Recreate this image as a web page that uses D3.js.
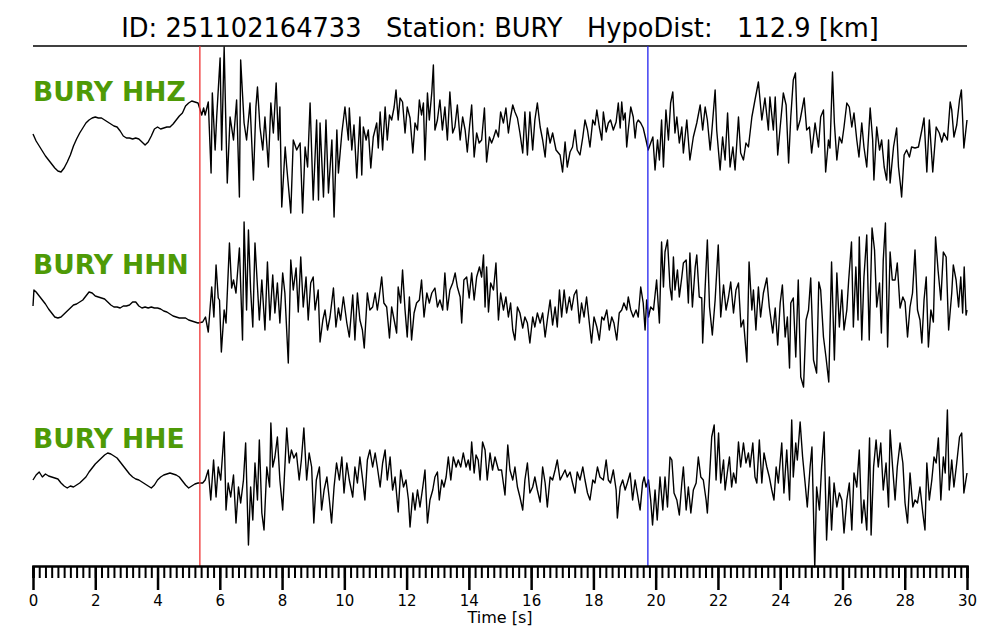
<!DOCTYPE html>
<html>
<head>
<meta charset="utf-8">
<script src="https://cdn.jsdelivr.net/npm/d3@7"></script>
<style>
    body { margin: 0; background: #fff; }
    text { font-family: "DejaVu Sans", sans-serif; }
</style>
</head>
<body>
<div id="chart"></div>
<script>
// Data
const event_id = '251102164733';
const station = 'BURY';
const hypo_dist = 112.9;
const channels = ['HHZ', 'HHN', 'HHE'];
const p_pick = 5.36;
const s_pick = 19.75;
const major_ticks = [0, 2, 4, 6, 8, 10, 12, 14, 16, 18, 20, 22, 24, 26, 28, 30];

// [time s, amplitude]
const hhz = [
    [0,-4],[0.1,-11],[0.2,-16],[0.3,-21],[0.4,-26],[0.5,-30],[0.6,-34],[0.7,-38],[0.8,-41],[0.9,-42],
    [1.0,-38],[1.1,-32],[1.2,-25],[1.3,-16],[1.4,-9],[1.5,-3],[1.6,2],[1.7,7],[1.8,10],[1.9,12],
    [2.0,13],[2.1,12],[2.2,12],[2.3,10],[2.4,8],[2.5,6],[2.6,4],[2.7,3],[2.8,-1],[2.9,-6],
    [3.0,-8],[3.1,-8],[3.2,-9],[3.3,-8],[3.4,-9],[3.5,-12],[3.6,-15],[3.7,-12],[3.8,-6],[3.9,1],
    [4.0,3],[4.1,1],[4.2,2],[4.3,3],[4.4,3],[4.5,6],[4.6,10],[4.7,14],[4.8,17],[4.9,24],
    [5.0,27],[5.1,29],[5.2,28],[5.3,27],
    [5.42,15],[5.48,22],[5.53,15],[5.63,28],[5.72,-43],[5.76,37],[5.85,-20],[5.90,13],[6.01,72],[6.06,-20],
    [6.14,83],[6.19,13],[6.24,-53],[6.33,13],[6.44,-10],[6.54,30],[6.63,-67],[6.67,70],[6.78,7],[6.86,-10],
    [6.97,27],[7.08,-50],[7.16,23],[7.21,43],[7.29,3],[7.38,-20],[7.45,13],[7.56,-37],[7.64,27],[7.72,-3],
    [7.81,47],[7.88,-10],[7.93,23],[7.99,-77],[8.10,-17],[8.15,-37],[8.28,-83],[8.36,-10],[8.47,-20],[8.58,-13],
    [8.66,-83],[8.74,-17],[8.82,-37],[8.90,27],[9.00,-70],[9.11,10],[9.17,-70],[9.22,7],[9.33,-67],[9.41,10],
    [9.49,-63],[9.60,-10],[9.67,-87],[9.76,0],[9.81,-43],[9.92,-3],[10.02,23],[10.13,-10],
    [10.16,22],[10.24,-20],[10.31,5],[10.40,-48],[10.50,13],[10.56,-45],[10.61,3],[10.70,-10],[10.77,0],[10.85,-38],
    [10.93,-7],[11.04,7],[11.09,-18],[11.15,18],[11.23,-20],[11.31,23],[11.38,-10],[11.45,15],[11.52,10],[11.60,23],
    [11.66,40],[11.73,10],[11.79,32],[11.87,28],[11.95,-3],[12.02,23],[12.11,12],[12.20,-23],[12.27,7],[12.35,0],
    [12.41,30],[12.48,15],[12.54,27],[12.59,-30],[12.67,37],[12.73,10],[12.81,38],[12.86,65],[12.91,0],[12.99,10],
    [13.07,30],[13.15,0],[13.23,23],[13.31,-10],[13.39,38],[13.48,-3],[13.55,3],[13.63,25],[13.72,-10],[13.80,13],
    [13.88,0],[13.95,-22],[14.02,3],[14.09,25],[14.17,-27],[14.25,-3],[14.33,-13],[14.41,-10],[14.50,22],[14.57,-32],
    [14.66,-7],[14.73,-13],[14.79,-8],[14.87,0],[14.95,-7],[15.02,18],[15.11,7],[15.19,22],[15.27,-3],[15.34,13],
    [15.41,25],[15.48,18],[15.56,12],[15.64,-3],[15.73,-23],[15.80,18],[15.88,-25],[15.96,18],[16.05,-20],[16.12,10],
    [16.20,27],[16.29,3],[16.37,-10],[16.45,-27],[16.52,2],[16.61,-13],[16.69,-3],[16.80,-20],[16.93,-25],[17.01,-42],
    [17.09,-12],[17.16,-37],[17.25,-22],[17.33,-17],[17.41,0],[17.48,-20],[17.57,-25],[17.66,-7],[17.73,10],[17.81,0],
    [17.89,-17],[17.98,10],[18.05,5],[18.11,20],[18.19,3],[18.27,-10],[18.32,18],[18.41,-2],[18.48,7],[18.55,10],
    [18.64,0],[18.73,8],[18.80,27],[18.86,2],[18.91,28],[18.96,10],[19.02,17],[19.07,-17],[19.12,0],[19.20,23],
    [19.28,13],[19.34,-8],[19.39,7],[19.44,10],[19.52,7],[19.60,2],[19.69,-10],[19.76,-20],
    [19.84,-13],[19.91,-7],[19.98,-40],[20.06,-10],[20.12,-30],[20.19,10],[20.25,-37],[20.33,20],[20.41,-10],[20.48,27],
    [20.55,38],[20.62,-3],[20.68,13],[20.76,-13],[20.84,3],[20.89,-23],[21.00,10],[21.10,-30],[21.21,-7],[21.32,7],
    [21.43,25],[21.51,0],[21.59,23],[21.66,10],[21.75,-20],[21.80,-3],[21.91,40],[21.96,0],[22.07,-40],[22.15,-7],
    [22.23,-30],[22.31,17],[22.39,-37],[22.48,-17],[22.55,-40],[22.66,13],[22.73,-23],[22.82,-30],[22.90,-13],[22.98,-17],
    [23.09,13],[23.19,30],[23.30,48],[23.41,10],[23.51,32],[23.62,0],[23.67,33],[23.78,0],[23.84,33],[23.92,-25],
    [24.00,3],[24.10,37],[24.19,25],[24.27,-33],[24.34,13],[24.42,50],[24.49,57],[24.55,0],[24.64,10],[24.77,32],
    [24.85,0],[24.94,3],[25.01,-23],[25.12,7],[25.23,-17],[25.30,13],[25.39,20],[25.46,-42],[25.55,-10],[25.60,-18],
    [25.68,58],[25.74,7],[25.82,-30],[25.90,-7],[25.98,-13],[26.05,3],[26.14,27],[26.22,23],[26.30,3],[26.37,17],
    [26.46,-10],[26.53,-27],[26.62,7],[26.69,-17],[26.78,-37],[26.89,22],[26.97,-10],[27.01,-50],[27.10,3],[27.19,-20],
    [27.26,-10],[27.34,-37],[27.42,-50],[27.48,-10],[27.53,-53],[27.64,-17],[27.74,2],[27.80,-37],[27.87,-57],[27.90,-67],
    [27.98,-25],[28.06,-20],[28.15,-27],[28.22,-17],[28.33,-18],[28.44,-17],[28.55,0],[28.62,12],[28.71,-42],[28.79,10],
    [28.90,-42],[29.01,3],[29.11,-3],[29.19,-12],[29.26,-3],[29.37,-10],[29.46,28],[29.51,20],[29.58,-7],[29.67,5],
    [29.76,30],[29.82,40],[29.90,-18],[30.00,10]
];

const hhn = [
    [0,-6],[0.03,10],[0.1,8],[0.2,4],[0.3,0],[0.4,-4],[0.5,-9],[0.6,-13],[0.7,-17],[0.8,-18],[0.9,-17],
    [1.0,-14],[1.1,-11],[1.2,-8],[1.3,-5],[1.4,-4],[1.5,-2],[1.6,0],[1.7,4],[1.8,8],[1.9,7],
    [2.0,4],[2.1,3],[2.2,2],[2.3,1],[2.4,-2],[2.5,-5],[2.6,-7],[2.7,-7],[2.8,-8],[2.9,-6],
    [3.0,-6],[3.1,-5],[3.2,-2],[3.3,-2],[3.4,-6],[3.5,-8],[3.6,-7],[3.7,-8],[3.8,-7],[3.9,-8],
    [4.0,-8],[4.1,-9],[4.2,-11],[4.3,-12],[4.4,-14],[4.5,-16],[4.6,-17],[4.7,-18],[4.8,-18],[4.9,-18],
    [5.0,-20],[5.1,-21],[5.2,-22],[5.3,-23],
    [5.45,-22],[5.54,-17],[5.63,-32],[5.74,13],[5.81,-17],[5.88,35],[5.95,2],[5.99,0],[6.05,-52],[6.14,-10],
    [6.20,-23],[6.31,57],[6.38,12],[6.44,20],[6.52,7],[6.63,52],[6.73,-40],[6.78,78],[6.86,-10],[6.92,70],
    [6.99,10],[7.06,-27],[7.13,57],[7.21,13],[7.27,-20],[7.35,20],[7.45,-30],[7.53,38],[7.61,-20],[7.70,25],
    [7.77,-13],[7.85,17],[7.93,-23],[8.02,27],[8.09,7],[8.20,-63],[8.28,40],[8.36,10],[8.45,32],[8.52,-12],
    [8.60,43],[8.68,-7],[8.77,23],[8.84,-20],[8.92,17],[9.00,23],[9.06,-10],[9.16,10],[9.22,-42],[9.31,-20],
    [9.38,-10],[9.46,-30],[9.54,-17],[9.65,12],[9.73,-27],[9.81,-8],[9.88,-20],[9.97,3],[10.08,-23],[10.16,-37],
    [10.27,5],[10.34,-40],[10.42,7],[10.50,-20],[10.58,-30],[10.64,-48],[10.74,7],[10.82,-10],[10.91,-7],[10.99,7],
    [11.06,-10],[11.12,3],[11.20,23],[11.27,-3],[11.36,-7],[11.45,-38],[11.52,-7],[11.60,-20],[11.68,-33],[11.73,13],
    [11.81,-3],[11.87,30],[11.95,-10],[12.02,-37],[12.09,3],[12.16,-40],[12.24,-13],[12.32,-3],[12.41,0],[12.48,20],
    [12.56,-17],[12.65,7],[12.73,-3],[12.81,7],[12.91,12],[12.99,-7],[13.07,0],[13.16,-10],[13.23,27],[13.31,-10],
    [13.39,10],[13.48,17],[13.56,27],[13.63,13],[13.72,3],[13.77,-23],[13.84,20],[13.93,23],[14.01,2],[14.09,27],
    [14.17,0],[14.25,23],[14.34,33],[14.41,23],[14.47,45],[14.52,-7],[14.57,33],[14.63,-12],[14.70,17],[14.79,10],
    [14.87,37],[14.95,-20],[15.02,7],[15.11,-10],[15.19,3],[15.27,-17],[15.34,-3],[15.41,-30],[15.48,-40],[15.56,-7],
    [15.64,-13],[15.73,-28],[15.80,-17],[15.88,-23],[15.96,-43],[16.05,-17],[16.12,-27],[16.20,-13],[16.29,-23],[16.37,-13],
    [16.45,-37],[16.52,-20],[16.61,0],[16.69,-25],[16.77,-7],[16.84,-27],[16.91,10],[16.98,-17],[17.06,10],[17.14,-13],
    [17.23,3],[17.30,-10],[17.38,5],[17.46,10],[17.55,-23],[17.62,-3],[17.70,-17],[17.78,3],[17.87,-23],[17.94,-43],
    [18.02,-17],[18.11,-27],[18.19,-40],[18.27,-17],[18.34,-20],[18.43,-10],[18.51,-30],[18.59,-17],[18.66,-23],[18.75,-40],
    [18.83,-13],[18.91,-10],[18.98,-3],[19.07,-10],[19.12,3],[19.20,-10],[19.28,-17],[19.37,-10],[19.44,-17],[19.52,13],
    [19.60,-3],[19.66,-30],[19.71,0],[19.77,-17],[19.84,-7],[19.93,-10],
    [20.03,20],[20.12,-23],[20.19,58],[20.25,13],[20.30,48],[20.38,60],[20.46,13],[20.52,0],[20.57,43],[20.62,10],
    [20.70,30],[20.76,3],[20.84,23],[20.89,37],[20.98,40],[21.05,-3],[21.10,47],[21.18,-7],[21.27,33],[21.32,45],
    [21.40,3],[21.48,2],[21.51,-43],[21.59,13],[21.66,60],[21.73,-7],[21.82,-35],[21.91,0],[22.01,55],[22.09,-17],
    [22.18,15],[22.26,-10],[22.34,3],[22.41,18],[22.50,-13],[22.58,10],[22.66,17],[22.74,-27],[22.82,-20],[22.93,-62],
    [23.00,38],[23.09,-10],[23.14,10],[23.22,-30],[23.30,13],[23.37,-17],[23.46,7],[23.57,22],[23.65,-7],[23.76,-33],
    [23.84,-8],[23.92,-45],[24.00,-3],[24.07,15],[24.16,-37],[24.23,-17],[24.30,-68],[24.34,-3],[24.42,2],[24.50,-57],
    [24.58,20],[24.66,-77],[24.75,-87],[24.83,-20],[24.91,-10],[24.98,22],[25.07,-60],[25.17,-73],[25.24,18],[25.30,10],
    [25.39,-37],[25.47,-57],[25.56,-82],[25.65,38],[25.74,-60],[25.82,27],[25.90,-27],[25.98,10],[26.05,-30],[26.14,-10],
    [26.20,20],[26.29,58],[26.35,-27],[26.43,33],[26.50,-20],[26.54,63],[26.62,-40],[26.69,23],[26.78,65],[26.86,-40],
    [26.95,72],[27.03,50],[27.10,-7],[27.19,17],[27.25,-33],[27.31,40],[27.38,77],[27.45,-47],[27.53,48],[27.60,20],
    [27.69,20],[27.76,37],[27.85,-8],[27.94,3],[28.01,-2],[28.09,-37],[28.17,-7],[28.25,7],[28.33,50],[28.41,-10],
    [28.49,-20],[28.55,-43],[28.62,0],[28.69,23],[28.76,-47],[28.84,-10],[28.92,-22],[28.99,63],[29.07,30],[29.16,0],
    [29.24,48],[29.33,43],[29.41,-30],[29.51,7],[29.56,35],[29.65,20],[29.73,-7],[29.80,23],[29.86,-13],[29.91,33],
    [29.97,-15],[30.00,-10]
];

const hhe = [
    [0,-5],[0.1,0],[0.2,3],[0.3,-2],[0.4,1],[0.5,-1],[0.6,-2],[0.7,-3],[0.8,-4],[0.9,-8],
    [1.0,-11],[1.1,-13],[1.2,-11],[1.3,-12],[1.4,-10],[1.5,-8],[1.6,-5],[1.7,-2],[1.8,3],[1.9,7],
    [2.0,11],[2.1,14],[2.2,17],[2.3,20],[2.4,22],[2.5,21],[2.6,19],[2.7,17],[2.8,13],[2.9,9],
    [3.0,5],[3.1,1],[3.2,-2],[3.3,-4],[3.4,-5],[3.5,-7],[3.6,-9],[3.7,-11],[3.8,-13],[3.9,-10],
    [4.0,-5],[4.1,-2],[4.2,0],[4.3,1],[4.4,2],[4.5,1],[4.6,0],[4.7,-2],[4.8,-6],[4.9,-10],
    [5.0,-13],[5.1,-11],[5.2,-9],[5.3,-8],
    [5.45,-8],[5.53,-5],[5.63,5],[5.71,-25],[5.80,15],[5.88,-22],[5.95,8],[6.03,-5],[6.14,43],[6.20,-35],
    [6.27,-8],[6.35,-22],[6.44,0],[6.52,-48],[6.60,-12],[6.67,-28],[6.76,-5],[6.83,32],[6.92,-70],[6.99,-12],
    [7.06,-45],[7.13,12],[7.21,-25],[7.27,35],[7.35,-38],[7.42,-55],[7.51,8],[7.60,-12],[7.64,52],[7.70,8],
    [7.77,18],[7.85,38],[7.93,-5],[8.02,-35],[8.09,8],[8.15,47],[8.23,12],[8.30,25],[8.38,17],[8.46,22],
    [8.55,-5],[8.62,15],[8.70,47],[8.79,-5],[8.87,22],[8.95,8],[9.02,-48],[9.10,-5],[9.20,8],[9.27,-35],
    [9.35,-15],[9.44,-2],[9.52,-25],[9.59,-48],[9.67,-12],[9.75,12],[9.84,-5],[9.92,18],[9.99,-18],[10.08,12],
    [10.16,-5],[10.27,-22],[10.34,8],[10.42,-8],[10.50,18],[10.59,-5],[10.66,-25],[10.74,15],[10.82,25],[10.91,8],
    [10.99,22],[11.06,8],[11.15,-12],[11.23,12],[11.31,25],[11.38,-5],[11.47,18],[11.55,-15],[11.63,-2],[11.73,-37],
    [11.81,5],[11.90,-12],[11.98,-5],[12.06,-25],[12.11,-52],[12.20,-18],[12.27,-35],[12.35,-15],[12.43,-32],[12.52,-12],
    [12.59,5],[12.67,-48],[12.75,-25],[12.84,-15],[12.91,-2],[12.99,3],[13.05,-25],[13.13,-5],[13.20,-12],[13.27,-2],
    [13.34,18],[13.42,-5],[13.50,18],[13.59,8],[13.66,15],[13.74,8],[13.82,22],[13.91,8],[13.98,15],[14.04,5],
    [14.09,33],[14.17,2],[14.23,20],[14.30,15],[14.36,-5],[14.44,33],[14.52,25],[14.59,-5],[14.68,22],[14.76,5],
    [14.84,18],[14.95,5],[15.05,5],[15.16,-20],[15.25,30],[15.32,5],[15.41,-5],[15.48,8],[15.56,-12],[15.64,-22],
    [15.73,-35],[15.80,-5],[15.88,12],[15.96,-18],[16.05,-12],[16.12,-2],[16.20,-15],[16.29,-27],[16.37,8],[16.45,-8],
    [16.52,-32],[16.61,-2],[16.69,-5],[16.77,5],[16.84,15],[16.93,-5],[17.01,0],[17.09,5],[17.16,-2],[17.25,3],
    [17.33,-8],[17.41,-18],[17.48,3],[17.57,-5],[17.66,8],[17.73,-5],[17.81,-18],[17.89,-25],[17.98,-5],[18.05,-8],
    [18.13,8],[18.21,-2],[18.32,-5],[18.41,15],[18.48,-5],[18.55,-8],[18.64,5],[18.73,-15],[18.77,-43],[18.86,-12],
    [18.94,-5],[19.02,-15],[19.09,-8],[19.18,2],[19.26,-25],[19.34,-5],[19.41,-18],[19.50,-35],[19.58,-8],[19.63,-2],
    [19.69,-12],[19.77,-5],[19.84,-25],[19.90,-50],[19.98,-15],[20.05,-45],[20.14,-2],
    [20.23,-35],[20.30,-2],[20.38,-32],[20.46,18],[20.52,15],[20.59,-18],[20.68,-25],[20.76,-40],[20.84,-8],[20.89,8],
    [20.98,-35],[21.05,-12],[21.13,-38],[21.21,-15],[21.30,-8],[21.37,18],[21.45,-2],[21.53,-5],[21.62,-25],[21.66,-38],
    [21.73,-2],[21.80,38],[21.88,50],[21.94,-5],[22.02,42],[22.09,-8],[22.18,15],[22.23,-15],[22.30,2],[22.37,18],
    [22.44,-12],[22.50,2],[22.58,-8],[22.66,33],[22.73,8],[22.82,32],[22.90,12],[22.98,22],[23.03,8],[23.12,32],
    [23.19,-2],[23.25,-8],[23.33,35],[23.41,-8],[23.48,22],[23.57,8],[23.65,-2],[23.73,-15],[23.80,-25],[23.87,8],
    [23.94,-8],[24.05,32],[24.12,-18],[24.21,25],[24.30,-25],[24.37,55],[24.42,-2],[24.50,32],[24.55,15],[24.64,53],
    [24.72,18],[24.80,-8],[24.87,-32],[24.96,8],[25.02,28],[25.06,-25],[25.11,-92],[25.17,-12],[25.26,-35],[25.33,8],
    [25.41,43],[25.49,-65],[25.58,-2],[25.65,-55],[25.73,-8],[25.82,-32],[25.90,-18],[25.98,-25],[26.05,-58],[26.14,-25],
    [26.22,-8],[26.30,-55],[26.37,2],[26.46,-12],[26.54,25],[26.62,-48],[26.69,-25],[26.78,-55],[26.87,37],[26.92,-60],
    [27.00,8],[27.08,35],[27.15,8],[27.23,32],[27.31,-15],[27.40,12],[27.48,-32],[27.53,45],[27.61,8],[27.69,-25],
    [27.76,8],[27.85,32],[27.94,12],[28.01,-28],[28.09,-48],[28.17,2],[28.26,-32],[28.33,-25],[28.41,-28],[28.49,-12],
    [28.58,-38],[28.65,-55],[28.71,12],[28.79,-25],[28.87,-5],[28.94,18],[29.01,12],[29.08,37],[29.16,-25],[29.24,18],
    [29.30,2],[29.37,65],[29.43,-15],[29.51,15],[29.58,-12],[29.67,12],[29.76,38],[29.83,42],[29.90,-18],[30.00,2]
];

const traces = [hhz, hhn, hhe];

const chart_width = 1000;
const chart_height = 640;
const left = 33;
const right = 967;
const top_line = 46;
const axis_y = 566;
const row_centre = [130, 300, 475];
const label_base = [101, 274, 448];

// Scales
const x_scale = d3.scaleLinear()
    .domain([0, 30])
    .range([left, right]);

const amp_scale = d3.scaleLinear()
    .domain([-100, 100])
    .range([100, -100]);

// Create SVG
const svg = d3.select('#chart')
    .append('svg')
    .attr('width', chart_width)
    .attr('height', chart_height);

// Title
svg.append('text')
    .attr('x', chart_width / 2)
    .attr('y', 37)
    .attr('text-anchor', 'middle')
    .style('white-space', 'pre')
    .style('font-size', '25.7px')
    .text(`ID: ${event_id}   Station: ${station}   HypoDist:   ${hypo_dist} [km]`);

svg.append('line')
    .attr('x1', left).attr('x2', right)
    .attr('y1', top_line).attr('y2', top_line)
    .attr('stroke', '#000')
    .attr('stroke-width', 1.5);

// Traces
const line = d3.line()
    .x(d => x_scale(d[0]))
    .y(d => amp_scale(d[1]));

traces.forEach((tr, i) => {
    const g = svg.append('g')
        .attr('transform', `translate(0, ${row_centre[i]})`);
    g.append('path')
        .datum(tr)
        .attr('fill', 'none')
        .attr('stroke', '#000')
        .attr('stroke-width', 1.4)
        .attr('stroke-linejoin', 'round')
        .attr('d', line);
});

// Labels
svg.selectAll('.chan')
    .data(channels)
    .enter()
    .append('text')
    .attr('class', 'chan')
    .attr('x', left)
    .attr('y', (d, i) => label_base[i])
    .attr('fill', '#4e9a06')
    .style('font-size', '26.5px')
    .style('font-weight', 'bold')
    .text(d => `${station} ${d}`);

// Picks
[[p_pick, '#ee3333'], [s_pick, '#2222ee']].forEach(([t, c]) => {
    svg.append('line')
        .attr('x1', x_scale(t)).attr('x2', x_scale(t))
        .attr('y1', top_line).attr('y2', axis_y)
        .attr('stroke', c)
        .attr('stroke-width', 1.3);
});

// Axes
const minor_axis = d3.axisBottom(x_scale)
    .tickValues(d3.range(0, 30.001, 0.2))
    .tickSize(12)
    .tickFormat('');

const major_axis = d3.axisBottom(x_scale)
    .tickValues(major_ticks)
    .tickSize(24)
    .tickPadding(5)
    .tickFormat(d3.format('d'));

const gm = svg.append('g')
    .attr('transform', `translate(0, ${axis_y})`)
    .call(minor_axis);
gm.selectAll('line').attr('stroke-width', 2);
gm.select('.domain').attr('stroke-width', 2.5);

const gM = svg.append('g')
    .attr('transform', `translate(0, ${axis_y})`)
    .call(major_axis);
gM.select('.domain').remove();
gM.selectAll('line').attr('stroke-width', 2.5);
gM.selectAll('text')
    .style('font-size', '15px')
    .style('font-family', '"DejaVu Sans", sans-serif')
    .attr('fill', '#000');

svg.append('text')
    .attr('x', chart_width / 2)
    .attr('y', 623)
    .attr('text-anchor', 'middle')
    .style('font-size', '16px')
    .text('Time [s]');
</script>
</body>
</html>
